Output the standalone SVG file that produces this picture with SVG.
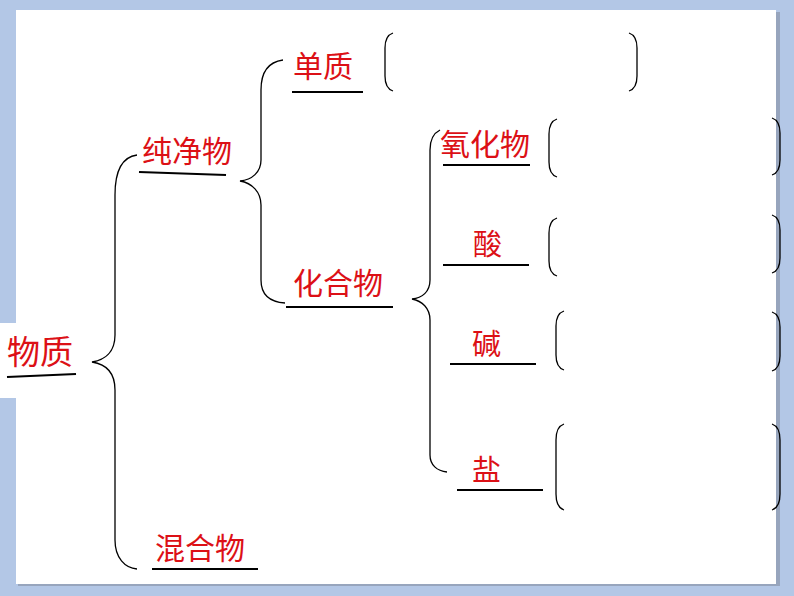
<svg xmlns="http://www.w3.org/2000/svg" width="794" height="596" viewBox="0 0 794 596">
<style>
.t{font-family:"Noto Sans CJK SC","Noto Sans",sans-serif;fill:#dc1016;}
.u{stroke:#000;stroke-width:2;fill:none;}
.b{stroke:#000;stroke-width:1.3;fill:none;}
</style>
<rect x="0" y="0" width="794" height="596" fill="#b3c7e6"/>
<rect x="18" y="12" width="762" height="574" fill="#8c97ab" opacity="0.7"/>
<rect x="16" y="10" width="760" height="574" fill="#ffffff"/>
<rect x="0" y="323" width="80" height="75" fill="#ffffff"/>
<g id="connectors">
<path class="b" d="M137,155 C122,157 115,170 115,195 L115,335 C115,352 105,360 92,362 C105,364 115,372 115,390 L115,540 C115,558 125,568 137,569"/>
<path class="b" d="M283,60 C268,62 261,72 261,90 L261,160 C261,172 252,180 240,181 C252,183 261,192 261,205 L261,280 C261,295 270,302 285,303"/>
<path class="b" d="M440,130 C434,133 430,140 430,150 L430,280 C430,292 422,298 412,299 C422,301 430,308 430,320 L430,455 C430,465 437,471 447,472"/>
</g>
<g id="n-wuzhi"><text class="t" x="7" y="364" font-size="33">物质</text><path class="u" d="M7,377 L76,374"/></g>
<g id="n-chunjingwu"><text class="t" x="142" y="162" font-size="30">纯净物</text><path class="u" d="M139,172 L226,175"/></g>
<g id="n-danzhi"><text class="t" x="293" y="77" font-size="30">单质</text><path class="u" d="M292,92 L363,92"/>
<path class="b" d="M393,33 C387,35 385,40 385,48 L385,76 C385,84 387,89 393,91"/>
<path class="b" d="M629,33 C635,35 637,40 637,48 L637,76 C637,84 635,89 629,91"/></g>
<g id="n-huahewu"><text class="t" x="293" y="294" font-size="30">化合物</text><path class="u" d="M286,307 L393,307"/></g>
<g id="n-hunhewu"><text class="t" x="155" y="559" font-size="30">混合物</text><path class="u" d="M152,569 L258,569"/></g>
<g id="n-yanghuawu"><text class="t" x="440" y="155" font-size="30">氧化物</text><path class="u" d="M443,165 L530,165"/>
<path class="b" d="M557,119 C551,121 549,126 549,134 L549,162 C549,170 551,175 557,177"/>
<path class="b" d="M772,118 C778,120 780,125 780,133 L780,160 C780,168 778,173 772,175"/></g>
<g id="n-suan"><text class="t" x="473" y="255" font-size="29">酸</text><path class="u" d="M443,265 L529,265"/>
<path class="b" d="M557,218 C551,220 549,225 549,233 L549,261 C549,269 551,274 557,276"/>
<path class="b" d="M772,215 C778,217 780,222 780,230 L780,258 C780,266 778,271 772,273"/></g>
<g id="n-jian"><text class="t" x="472" y="355" font-size="29">碱</text><path class="u" d="M450,364 L536,364"/>
<path class="b" d="M564,311 C558,313 556,318 556,326 L556,355 C556,363 558,368 564,370"/>
<path class="b" d="M772,312 C778,314 780,319 780,327 L780,356 C780,364 778,369 772,371"/></g>
<g id="n-yan"><text class="t" x="472" y="481" font-size="29">盐</text><path class="u" d="M457,490 L543,490"/>
<path class="b" d="M564,424 C558,426 556,431 556,440 L556,494 C556,503 558,508 564,510"/>
<path class="b" d="M772,424 C778,426 780,431 780,440 L780,494 C780,503 778,508 772,510"/></g>
</svg>
